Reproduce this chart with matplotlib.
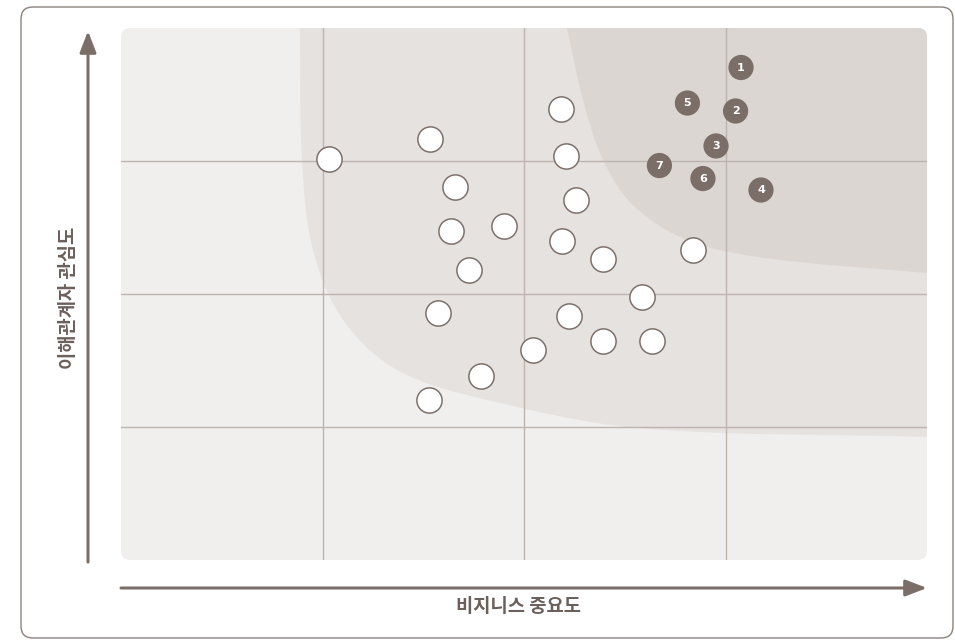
import math
import matplotlib
matplotlib.use("Agg")
import matplotlib.pyplot as plt
from matplotlib.patches import FancyBboxPatch, PathPatch, FancyArrowPatch
from matplotlib.path import Path

plt.rcParams['font.family'] = ['Noto Sans CJK KR', 'DejaVu Sans']

# ---- data ----
other_x = [1.032, 1.534, 2.184, 2.208, 1.658, 2.258, 1.638, 1.901, 2.189, 2.392,
           2.839, 1.727, 2.586, 1.573, 2.223, 2.392, 2.635, 2.045, 1.787, 1.529]
other_y = [3.015, 3.165, 3.391, 3.038, 2.805, 2.707, 2.474, 2.511, 2.398, 2.263,
           2.331, 2.180, 1.977, 1.857, 1.835, 1.647, 1.647, 1.579, 1.383, 1.203]

key_labels = ['1', '2', '3', '4', '5', '6', '7']
key_x = [3.077, 3.050, 2.953, 3.176, 2.811, 2.888, 2.672]
key_y = [3.703, 3.376, 3.113, 2.782, 3.436, 2.868, 2.966]

grid_vals = [1, 2, 3]
x_label = '비지니스 중요도'
y_label = '이해관계자 관심도'

# background zone boundaries (shape outlines, data coords)
outer_bx = [0.888, 0.898, 0.953, 1.102, 1.370, 1.800, 2.566, 4.0]
outer_by = [4.0, 3.008, 2.331, 1.805, 1.429, 1.210, 0.992, 0.925]
inner_bx = [2.213, 2.293, 2.392, 2.540, 2.809, 3.200, 4.0]
inner_by = [4.0, 3.459, 3.008, 2.670, 2.406, 2.270, 2.158]

# ---- style ----
BG = '#f1efed'
OUTER = '#e6e2df'
INNER = '#dbd6d2'
GRID = '#bdb3af'
DARK = '#7b6e68'
TEXT = '#6b605b'

SX, SY = 806 / 4, 532 / 4  # pixel per data unit, for isotropic smoothing


def zone_path(bx, by):
    P = [(x * SX, y * SY) for x, y in zip(bx, by)]
    n = len(P)
    T = []
    for i in range(n):
        a = P[max(i - 1, 0)]
        b = P[min(i + 1, n - 1)]
        dx, dy = b[0] - a[0], b[1] - a[1]
        L = math.hypot(dx, dy)
        T.append((dx / L, dy / L))
    verts = [P[0]]
    codes = [Path.MOVETO]
    for i in range(n - 1):
        L = math.hypot(P[i + 1][0] - P[i][0], P[i + 1][1] - P[i][1]) / 3
        c1 = (P[i][0] + T[i][0] * L, P[i][1] + T[i][1] * L)
        c2 = (P[i + 1][0] - T[i + 1][0] * L, P[i + 1][1] - T[i + 1][1] * L)
        verts += [c1, c2, P[i + 1]]
        codes += [Path.CURVE4] * 3
    verts = [(vx / SX, vy / SY) for vx, vy in verts]
    verts += [(4.6, by[-1]), (4.6, 4.6), (bx[0], 4.6), (bx[0], by[0])]
    codes += [Path.LINETO] * 3 + [Path.CLOSEPOLY]
    return Path(verts, codes)


W, H = 955, 644
fig = plt.figure(figsize=(W / 100, H / 100), dpi=100)
fig.patch.set_facecolor('white')

frame = FancyBboxPatch((21 / W, 6 / H), (953 - 21) / W, (637 - 6) / H,
                       boxstyle='round,pad=0,rounding_size=0.0125',
                       mutation_aspect=W / H, transform=fig.transFigure,
                       facecolor='none', edgecolor='#8b817c', linewidth=1.0)
fig.add_artist(frame)

ax = fig.add_axes([121 / W, 1 - 560 / H, (927 - 121) / W, (560 - 28) / H])
ax.set_xlim(0, 4)
ax.set_ylim(0, 4)
ax.axis('off')

asp = SX / SY
bg = FancyBboxPatch((0, 0), 4, 4, boxstyle='round,pad=0,rounding_size=0.045',
                    mutation_aspect=asp, facecolor=BG, edgecolor='none', zorder=0)
ax.add_patch(bg)

op = PathPatch(zone_path(outer_bx, outer_by), facecolor=OUTER, edgecolor='none', zorder=1)
ax.add_patch(op)
op.set_clip_path(bg)
ip = PathPatch(zone_path(inner_bx, inner_by), facecolor=INNER, edgecolor='none', zorder=2)
ax.add_patch(ip)
ip.set_clip_path(bg)

for g in grid_vals:
    l1 = ax.axvline(g, color=GRID, linewidth=1.0, zorder=3)
    l2 = ax.axhline(g, color=GRID, linewidth=1.0, zorder=3)
    l1.set_clip_path(bg)
    l2.set_clip_path(bg)

ax.scatter(other_x, other_y, s=330, facecolor='white', edgecolor='#7d716b',
           linewidth=1.1, zorder=5)
ax.scatter(key_x, key_y, s=330, facecolor=DARK, edgecolor='none', zorder=5)
for lab, x, y in zip(key_labels, key_x, key_y):
    ax.text(x, y, lab, ha='center', va='center', color='white', fontsize=8,
            fontweight='bold', family=['DejaVu Sans'], zorder=6)

va = FancyArrowPatch((88 / W, 1 - 562 / H), (88 / W, 1 - 31 / H), transform=fig.transFigure,
                     arrowstyle='-|>,head_length=0.65,head_width=0.25', mutation_scale=20,
                     color=DARK, linewidth=2.2, shrinkA=0, shrinkB=0)
fig.add_artist(va)
ha_ = FancyArrowPatch((121 / W, 1 - 588 / H), (927 / W, 1 - 588 / H), transform=fig.transFigure,
                      arrowstyle='-|>,head_length=0.65,head_width=0.25', mutation_scale=20,
                      color=DARK, linewidth=2.2, shrinkA=0, shrinkB=0)
fig.add_artist(ha_)

fig.text(518 / W, 1 - 607 / H, x_label, ha='center', va='center', color=TEXT,
         fontsize=13.5, fontweight='bold')
fig.text(68 / W, 1 - 298 / H, y_label, ha='center', va='center', color=TEXT,
         fontsize=13.5, fontweight='bold', rotation=90)

fig.savefig('out.png', dpi=100, facecolor='white')
